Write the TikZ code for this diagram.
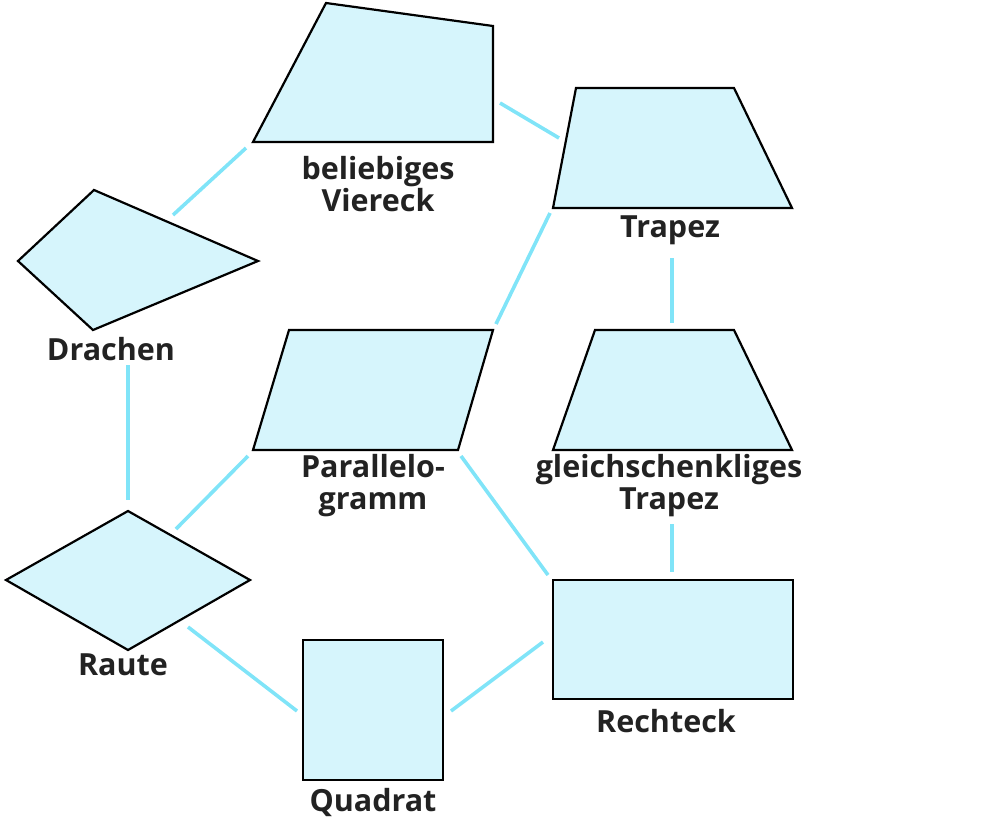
\documentclass[tikz,border=0pt]{standalone}
\usepackage{fontspec}
\setmainfont{Open Sans}
\definecolor{shapefill}{HTML}{D6F5FC}
\definecolor{linkc}{HTML}{80E4F8}
\definecolor{txt}{HTML}{222222}
\tikzset{
  shapebox/.style={fill=shapefill,draw=black,line width=2.2pt,line join=miter},
  lbl/.style={text=txt,font=\fontsize{30.5}{32}\selectfont\bfseries,align=center,inner sep=0pt,anchor=center},
  link/.style={draw=linkc,line width=3.6pt}
}
\begin{document}
\begin{tikzpicture}[x=1pt,y=-1pt]
\path[use as bounding box] (0,0) rectangle (1000,820);
% shapes
\draw[shapebox] (326,3) -- (493,26) -- (493,142) -- (253,142) -- cycle;
\draw[shapebox] (576,88) -- (734,88) -- (792,208) -- (553,208) -- cycle;
\draw[shapebox] (94,190) -- (258,261) -- (93,330) -- (18,261) -- cycle;
\draw[shapebox] (289,330) -- (493,330) -- (458,450) -- (253,450) -- cycle;
\draw[shapebox] (595,330) -- (734,330) -- (792,450) -- (553,450) -- cycle;
\draw[shapebox] (128,511) -- (250,580) -- (128,650) -- (6,580) -- cycle;
\draw[shapebox] (303,640) rectangle (443,780);
\draw[shapebox] (553,580) rectangle (793,699);
% labels
\node[lbl] (viereck) at (378,184) {beliebiges\\Viereck};
\node[lbl] (trapez) at (670,230) {Trapez};
\node[lbl] (drachen) at (111,349) {Drachen};
\node[lbl] (parallel) at (373,486) {Parallelo-\\gramm};
\node[lbl] (gltrapez) at (669,486) {gleichschenkliges\\Trapez};
\node[lbl] (raute) at (123,665) {Raute};
\node[lbl] (rechteck) at (666,721) {Rechteck};
\node[lbl] (quadrat) at (373,802) {Quadrat};
% connector ends
\coordinate (v1) at (246,148); \coordinate (d1) at (173,215);
\coordinate (v2) at (500,103); \coordinate (t1) at (559,138);
\coordinate (t2) at (550,213); \coordinate (p1) at (496,324);
\coordinate (t3) at (672,258); \coordinate (g1) at (672,323);
\coordinate (d2) at (128,365); \coordinate (r1) at (128,500);
\coordinate (p2) at (248,456); \coordinate (r2) at (176,529);
\coordinate (p3) at (461,456); \coordinate (k1) at (548,575);
\coordinate (g2) at (672,524); \coordinate (k2) at (672,572);
\coordinate (r3) at (188,627); \coordinate (q1) at (297,711);
\coordinate (q2) at (451,711); \coordinate (k3) at (543,642);
\draw[link] (v1) -- (d1);
\draw[link] (v2) -- (t1);
\draw[link] (t2) -- (p1);
\draw[link] (t3) -- (g1);
\draw[link] (d2) -- (r1);
\draw[link] (p2) -- (r2);
\draw[link] (p3) -- (k1);
\draw[link] (g2) -- (k2);
\draw[link] (r3) -- (q1);
\draw[link] (q2) -- (k3);
\end{tikzpicture}
\end{document}
